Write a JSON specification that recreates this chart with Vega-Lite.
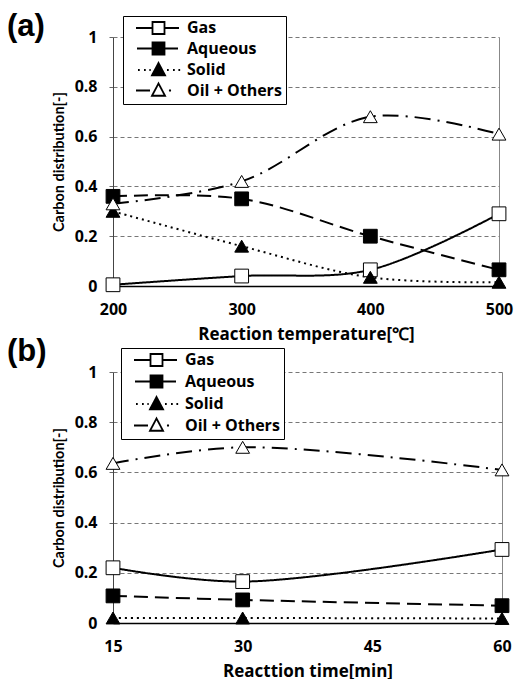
{
  "$schema": "https://vega.github.io/schema/vega-lite/v6.json",
  "padding": {"left": 7, "top": 10, "right": 5, "bottom": 0},
  "spacing": -7,
  "background": "white",
  "resolve": {"scale": {"shape": "independent", "fill": "independent", "strokeDash": "independent", "stroke": "independent"}, "legend": {"shape": "independent", "fill": "independent", "strokeDash": "independent", "stroke": "independent"}},
  "datasets": {
    "temp": [
      {"x": 200, "series": "Gas", "v": 0.005},
      {"x": 300, "series": "Gas", "v": 0.04},
      {"x": 400, "series": "Gas", "v": 0.065},
      {"x": 500, "series": "Gas", "v": 0.29},
      {"x": 200, "series": "Aqueous", "v": 0.36},
      {"x": 300, "series": "Aqueous", "v": 0.35},
      {"x": 400, "series": "Aqueous", "v": 0.2},
      {"x": 500, "series": "Aqueous", "v": 0.065},
      {"x": 200, "series": "Solid", "v": 0.3},
      {"x": 300, "series": "Solid", "v": 0.16},
      {"x": 400, "series": "Solid", "v": 0.035},
      {"x": 500, "series": "Solid", "v": 0.015},
      {"x": 200, "series": "Oil + Others", "v": 0.33},
      {"x": 300, "series": "Oil + Others", "v": 0.42},
      {"x": 400, "series": "Oil + Others", "v": 0.68},
      {"x": 500, "series": "Oil + Others", "v": 0.61}
    ],
    "time": [
      {"x": 15, "series": "Gas", "v": 0.22},
      {"x": 30, "series": "Gas", "v": 0.165},
      {"x": 60, "series": "Gas", "v": 0.293},
      {"x": 15, "series": "Aqueous", "v": 0.108},
      {"x": 30, "series": "Aqueous", "v": 0.092},
      {"x": 60, "series": "Aqueous", "v": 0.069},
      {"x": 15, "series": "Solid", "v": 0.02},
      {"x": 30, "series": "Solid", "v": 0.02},
      {"x": 60, "series": "Solid", "v": 0.018},
      {"x": 15, "series": "Oil + Others", "v": 0.636},
      {"x": 30, "series": "Oil + Others", "v": 0.7},
      {"x": 60, "series": "Oil + Others", "v": 0.61}
    ]
  },
  "config": {
    "view": {"stroke": null},
    "font": "Open Sans",
    "axis": {
      "labelFont": "Open Sans", "labelFontWeight": "bold", "labelFontSize": 16, "labelColor": "black", "labelFlush": false,
      "titleFont": "Open Sans", "titleFontWeight": "bold", "titleColor": "black"
    },
    "title": {"font": "Liberation Sans", "fontWeight": "bold", "fontSize": 31, "anchor": "start", "frame": "group", "dx": -106, "baseline": "alphabetic", "color": "black"},
    "legend": {
      "labelFont": "Open Sans", "labelFontWeight": "bold", "labelFontSize": 16, "labelColor": "black",
      "strokeColor": "black", "fillColor": "white", "padding": 4, "symbolSize": 196, "labelOffset": 44
    }
  },
  "vconcat": [
    {
      "title": {"text": "(a)", "offset": -27},
      "width": 386,
      "height": 249,
      "data": {"name": "temp"},
      "encoding": {
        "x": {"field": "x", "type": "quantitative", "scale": {"domain": [200, 500], "nice": false},
          "axis": {"values": [200, 300, 400, 500], "title": "Reaction temperature[℃]", "titleFontSize": 17, "titlePadding": 9,
            "domainColor": "black", "domainWidth": 1.5, "ticks": false, "labelPadding": 15,
            "grid": true, "gridDash": [], "gridColor": "#888", "gridOpacity": {"condition": {"test": "datum.value == 500", "value": 1}, "value": 0}}},
        "y": {"field": "v", "type": "quantitative", "scale": {"domain": [0, 1], "nice": false},
          "axis": {"values": [0, 0.2, 0.4, 0.6, 0.8, 1], "format": ".1~f", "title": "Carbon distribution[-]", "titleFont": "Lato", "titleFontSize": 14.5, "titlePadding": 8,
            "domainColor": "#444", "tickColor": "#666", "tickSize": 4, "labelPadding": 12,
            "grid": true, "gridDash": [4, 3], "gridColor": "#777", "gridOpacity": {"condition": {"test": "datum.value == 0", "value": 0}, "value": 1}}}
      },
      "layer": [
        {
          "mark": {"type": "line", "interpolate": "catmull-rom", "color": "black", "strokeWidth": 2},
          "encoding": {
            "strokeDash": {"field": "series", "type": "nominal", "legend": null,
              "scale": {"domain": ["Gas", "Aqueous", "Solid", "Oil + Others"], "range": [[1, 0], [14, 7], [2, 4], [16, 7, 2, 7]]}}
          }
        },
        {
          "mark": {"type": "point", "filled": true, "strokeWidth": 1, "size": 190, "opacity": 1},
          "encoding": {
            "fill": {"field": "series", "type": "nominal", "legend": null,
              "scale": {"domain": ["Gas", "Aqueous", "Solid", "Oil + Others"], "range": ["white", "black", "black", "white"]}},
            "shape": {"field": "series", "type": "nominal", "legend": null,
              "scale": {"domain": ["Gas", "Aqueous", "Solid", "Oil + Others"], "range": ["square", "square", "triangle-up", "triangle-up"]}},
            "stroke": {"field": "series", "type": "nominal", "sort": ["Gas", "Aqueous", "Solid", "Oil + Others"],
              "scale": {"range": ["black", "black", "black", "black"]},
              "legend": {"title": null, "orient": "none", "legendX": 10, "legendY": -21, "rowPadding": 0.5,
                "encoding": {"symbols": {
                  "shape": {"value": {"expr": "datum.value === 'Gas' ? 'M0.143,0H2.5M4.214,0H6.286M2.5,-0.857H4.214V0.857H2.5Z' : datum.value === 'Aqueous' ? 'M0.286,0H2.5M4.214,0H6.143M2.5,-0.857H4.214V0.857H2.5Z' : datum.value === 'Solid' ? 'M0.429,0h0.25M1.286,0h0.25M2.05,0h0.2M4.571,0h0.25M5.429,0h0.25M6.2,0h0.25M3.357,-1L4.29,0.75H2.43Z' : 'M0.143,0H2.143M4.85,0h0.3M3.357,-1L4.29,0.75H2.43Z'"}},
                  "fill": {"value": {"expr": "datum.value === 'Gas' || datum.value === 'Oil + Others' ? 'white' : 'black'"}},
                  "strokeWidth": {"value": 1.8},
                  "strokeDash": {"value": [1, 0]},
                  "size": {"value": 196},
                  "opacity": {"value": 1}
                }}}}
          }
        }
      ]
    },
    {
      "title": {"text": "(b)", "offset": -20},
      "width": 389,
      "height": 251,
      "data": {"name": "time"},
      "encoding": {
        "x": {"field": "x", "type": "quantitative", "scale": {"domain": [15, 60], "nice": false},
          "axis": {"values": [15, 30, 45, 60], "title": "Reacttion time[min]", "titleFontSize": 17, "titlePadding": 9,
            "domainColor": "black", "domainWidth": 1.5, "ticks": false, "labelPadding": 15,
            "grid": true, "gridDash": [], "gridColor": "#888", "gridOpacity": {"condition": {"test": "datum.value == 60", "value": 1}, "value": 0}}},
        "y": {"field": "v", "type": "quantitative", "scale": {"domain": [0, 1], "nice": false},
          "axis": {"values": [0, 0.2, 0.4, 0.6, 0.8, 1], "format": ".1~f", "title": "Carbon distribution[-]", "titleFont": "Lato", "titleFontSize": 14.5, "titlePadding": 8,
            "domainColor": "#444", "tickColor": "#666", "tickSize": 4, "labelPadding": 12,
            "grid": true, "gridDash": [4, 3], "gridColor": "#777", "gridOpacity": {"condition": {"test": "datum.value == 0", "value": 0}, "value": 1}}}
      },
      "layer": [
        {
          "mark": {"type": "line", "interpolate": "catmull-rom", "color": "black", "strokeWidth": 2},
          "encoding": {
            "strokeDash": {"field": "series", "type": "nominal", "legend": null,
              "scale": {"domain": ["Gas", "Aqueous", "Solid", "Oil + Others"], "range": [[1, 0], [14, 7], [2, 4], [16, 7, 2, 7]]}}
          }
        },
        {
          "mark": {"type": "point", "filled": true, "strokeWidth": 1, "size": 190, "opacity": 1},
          "encoding": {
            "fill": {"field": "series", "type": "nominal", "legend": null,
              "scale": {"domain": ["Gas", "Aqueous", "Solid", "Oil + Others"], "range": ["white", "black", "black", "white"]}},
            "shape": {"field": "series", "type": "nominal", "legend": null,
              "scale": {"domain": ["Gas", "Aqueous", "Solid", "Oil + Others"], "range": ["square", "square", "triangle-up", "triangle-up"]}},
            "stroke": {"field": "series", "type": "nominal", "sort": ["Gas", "Aqueous", "Solid", "Oil + Others"],
              "scale": {"range": ["black", "black", "black", "black"]},
              "legend": {"title": null, "orient": "none", "legendX": 8, "legendY": -24, "rowPadding": 1.5,
                "encoding": {"symbols": {
                  "shape": {"value": {"expr": "datum.value === 'Gas' ? 'M0.143,0H2.5M4.214,0H6.286M2.5,-0.857H4.214V0.857H2.5Z' : datum.value === 'Aqueous' ? 'M0.286,0H2.5M4.214,0H6.143M2.5,-0.857H4.214V0.857H2.5Z' : datum.value === 'Solid' ? 'M0.429,0h0.25M1.286,0h0.25M2.05,0h0.2M4.571,0h0.25M5.429,0h0.25M6.2,0h0.25M3.357,-1L4.29,0.75H2.43Z' : 'M0.143,0H2.143M4.85,0h0.3M3.357,-1L4.29,0.75H2.43Z'"}},
                  "fill": {"value": {"expr": "datum.value === 'Gas' || datum.value === 'Oil + Others' ? 'white' : 'black'"}},
                  "strokeWidth": {"value": 1.8},
                  "strokeDash": {"value": [1, 0]},
                  "size": {"value": 196},
                  "opacity": {"value": 1}
                }}}}
          }
        }
      ]
    }
  ]
}
